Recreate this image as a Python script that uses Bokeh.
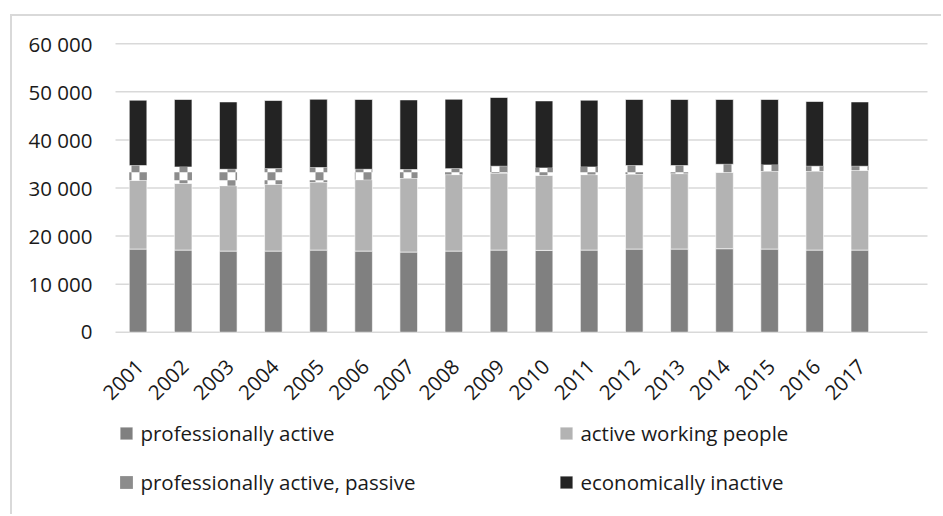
import math
from bokeh.plotting import figure
from bokeh.models import Range1d, Legend, LegendItem, ColumnDataSource
from bokeh.core.properties import value
from bokeh.embed import file_html
from bokeh.resources import INLINE

# ---------------- data ----------------
years = [2001, 2002, 2003, 2004, 2005, 2006, 2007, 2008, 2009,
         2010, 2011, 2012, 2013, 2014, 2015, 2016, 2017]
x_tick_labels = ["2001", "2002", "2003", "2004", "2005", "2006", "2007", "2008", "2009",
                 "2010", "2011", "2012", "2013", "2014", "2015", "2016", "2017"]
professionally_active = [17290, 17080, 16870, 16870, 17080, 16870, 16670, 16870, 17080,
                         17020, 17080, 17290, 17290, 17370, 17290, 17080, 17080]
active_working_people = [14310, 13900, 13620, 13900, 14170, 14870, 15410, 15920, 16040,
                         15620, 15710, 15620, 15710, 15900, 16250, 16460, 16600]
professionally_active_passive = [3060, 3390, 3400, 3260, 2990, 2150, 1750, 1240, 1400,
                                 1520, 1580, 1750, 1660, 1660, 1250, 980, 840]
economically_inactive = [13610, 14040, 14020, 14170, 14230, 14520, 14500, 14440, 14310,
                         13960, 13900, 13750, 13750, 13480, 13620, 13470, 13390]
series_names = ["professionally active", "active working people",
                "professionally active, passive", "economically inactive"]
y_ticks = [0, 10000, 20000, 30000, 40000, 50000, 60000]
y_tick_labels = ["0", "10 000", "20 000", "30 000", "40 000", "50 000", "60 000"]

# ---------------- styles / geometry ----------------
FONT = "Open Sans"
TXT = "#1a1a1a"
GRID = "#d9d9d9"
colors = ["#808080", "#b3b3b3", "#ffffff", "#232323"]
CHECK = "#8c8c8c"
BAR_W = 0.39

FIG_W, FIG_H = 931, 500          # canvas (page offset 12, 16 because of margin+border)
PLOT_L, PLOT_R = 103, 915        # plot area inside the canvas, px
PLOT_T, PLOT_B = 27.3, 315.7

x_lo, x_hi = years[0] - 0.5, years[-1] + 1.5      # 18 category slots
y_lo, y_hi = y_ticks[0], y_ticks[-1]
kx = (PLOT_R - PLOT_L) / (x_hi - x_lo)
ky = (PLOT_B - PLOT_T) / (y_hi - y_lo)

# frame = whole canvas; ranges extended so the data area lands where the reference has it
p = figure(width=FIG_W, height=FIG_H, output_backend="svg", toolbar_location=None,
           x_range=Range1d(x_lo - PLOT_L / kx, x_hi + (FIG_W - PLOT_R) / kx),
           y_range=Range1d(y_lo - (FIG_H - PLOT_B) / ky, y_hi + PLOT_T / ky),
           min_border_left=0, min_border_right=0, min_border_top=0, min_border_bottom=0)
p.styles = {"margin-left": "10px", "margin-top": "14px",
            "border-left": "2px solid #d9d9d9", "border-top": "2px solid #d9d9d9"}
p.outline_line_color = None
p.background_fill_color = "white"
p.border_fill_color = "white"
p.xaxis.visible = False
p.yaxis.visible = False
p.xgrid.visible = False
p.ygrid.visible = False

# gridlines (the one at 0 doubles as the category axis line)
p.segment(x0=[x_lo] * len(y_ticks), x1=[x_hi] * len(y_ticks), y0=y_ticks, y1=y_ticks,
          line_color=GRID, line_width=1.5)

source = ColumnDataSource(dict(
    year=years,
    label=x_tick_labels,
    base=[y_lo] * len(years),
    pa=professionally_active,
    aw=active_working_people,
    pp=professionally_active_passive,
    ei=economically_inactive,
))

renderers = p.vbar_stack(["pa", "aw", "pp", "ei"], x="year", width=BAR_W, source=source,
                         fill_color=colors, line_color="white", line_width=0.6)

# checkerboard fill of the "passive" segments (8 px cells), computed from the data
cell_x, cell_y = 8 / kx, 8 / ky
ql, qr, qb, qt = [], [], [], []
for yr, a, b, c in zip(years, professionally_active, active_working_people,
                       professionally_active_passive):
    x0, x1 = yr - BAR_W / 2, yr + BAR_W / 2
    y0, y1 = a + b, a + b + c
    for ix in range(math.floor((x0 - x_lo) / cell_x), math.ceil((x1 - x_lo) / cell_x)):
        for iy in range(math.floor((y0 - y_lo) / cell_y), math.ceil((y1 - y_lo) / cell_y)):
            if (ix + iy) % 2:
                continue
            l = max(x0, x_lo + ix * cell_x); r = min(x1, x_lo + (ix + 1) * cell_x)
            bo = max(y0, y_lo + iy * cell_y); to = min(y1, y_lo + (iy + 1) * cell_y)
            if r > l and to > bo:
                ql.append(l); qr.append(r); qb.append(bo); qt.append(to)
checker = p.quad(left=ql, right=qr, bottom=qb, top=qt, fill_color=CHECK, line_color=None)

# rotated year labels under the zero line
p.text(x="year", y="base", text="label", source=source, angle=math.pi / 4,
       text_align="right", text_baseline="middle", x_offset=2, y_offset=31,
       text_font=value(FONT), text_font_size="20.5px", text_color=TXT)

# value labels left of the plot area
p.text(x=[x_lo] * len(y_ticks), y=y_ticks, text=y_tick_labels, x_offset=-23,
       text_align="right", text_baseline="middle",
       text_font=value(FONT), text_font_size="20.5px", text_color=TXT)

legend_renderers = [renderers[0], renderers[1], checker, renderers[3]]


def make_legend(idx, vx):
    return Legend(
        items=[LegendItem(label=series_names[i], renderers=[legend_renderers[i]]) for i in idx],
        orientation="vertical", location=(vx, 19),
        padding=0, margin=0, spacing=19, border_line_color=None,
        background_fill_alpha=0, glyph_width=16, glyph_height=16,
        label_standoff=6, label_height=30,
        label_text_font=FONT, label_text_font_size="20.5px", label_text_color=TXT)


p.add_layout(make_legend([0, 2], 106.4), "center")
p.add_layout(make_legend([1, 3], 546.4), "center")

open("out.html", "w").write(file_html(p, INLINE))
